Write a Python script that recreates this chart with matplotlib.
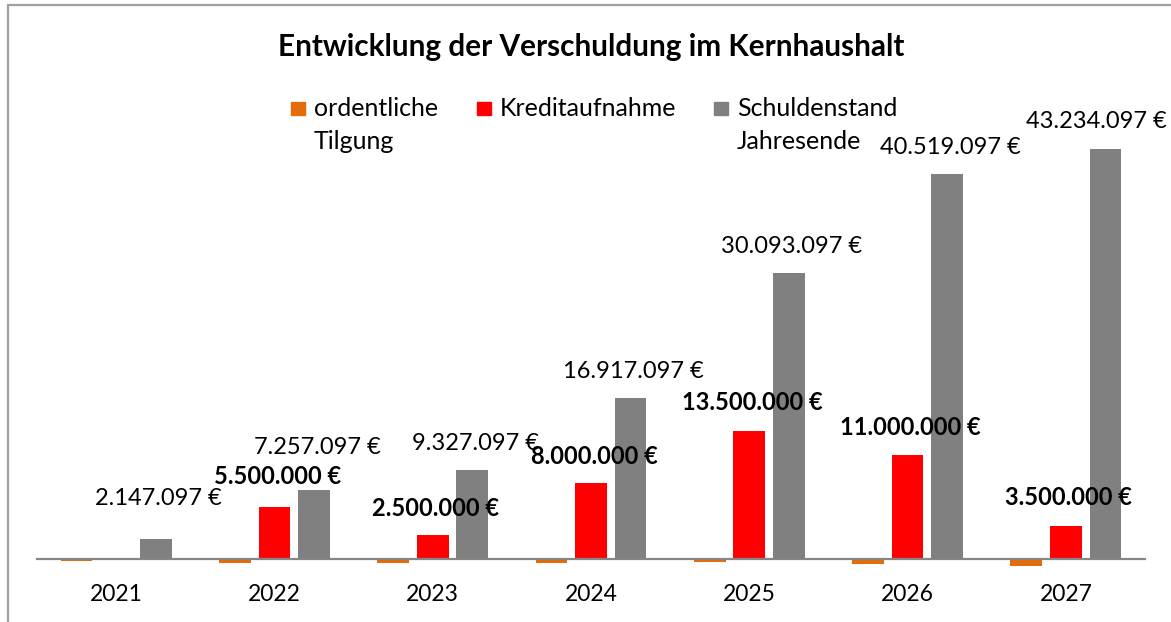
import matplotlib
matplotlib.use("Agg")
import matplotlib.pyplot as plt
from matplotlib.patches import Rectangle
import numpy as np

# chart data
years = ["2021", "2022", "2023", "2024", "2025", "2026", "2027"]
tilgung = [-250000, -390000, -430000, -410000, -324000, -574000, -785000]
kredit = [0, 5500000, 2500000, 8000000, 13500000, 11000000, 3500000]
schulden = [2147097, 7257097, 9327097, 16917097, 30093097, 40519097, 43234097]
series_names = [["ordentliche", "Tilgung"], ["Kreditaufnahme"], ["Schuldenstand", "Jahresende"]]
title = "Entwicklung der Verschuldung im Kernhaushalt"

# label shift from bar top (pixels), some were moved by hand in the original
schulden_lift = [40, 43, 27, 27, 27, 27, 27]
schulden_shift = [3, 3, 3, 3, 3, 3, -9]
kredit_lift = [0, 30, 27, 27, 28, 27, 28]

colors = ["#E46C0A", "#FF0000", "#808080"]
W, H = 1171, 622

plt.rcParams["font.family"] = ["Lato", "DejaVu Sans"]

def fx(px):
    return px / W

def fy(py):
    return 1 - py / H

def euro(v):
    return f"{v:,.0f} €".replace(",", ".")

fig = plt.figure(figsize=(W / 100, H / 100), dpi=100)
fig.patch.set_facecolor("white")

# frame of the excel chart (only top and left edge visible)
fig.patches.append(Rectangle((fx(8), -0.2), 1.2, fy(5) + 0.2, transform=fig.transFigure,
                             fill=False, edgecolor="#A0A0A0", linewidth=1.6))

# axes: x axis line at y=559px, 9.49 px per million
ymin, ymax = -4.0e6, 45.0e6
px_per = 9.49e-6
y_bot = 559 + (-ymin) * px_per
y_top = 559 - ymax * px_per
ax = fig.add_axes([fx(37), fy(y_bot), fx(1145) - fx(37), (y_bot - y_top) / H])
ax.set_xlim(-0.5, len(years) - 0.5)
ax.set_ylim(ymin, ymax)

x = np.arange(len(years))
bw = 0.2
ax.bar(x - 0.25, tilgung, bw, color=colors[0], zorder=2)
ax.bar(x, kredit, bw, color=colors[1], zorder=2)
ax.bar(x + 0.25, schulden, bw, color=colors[2], zorder=2)

for i in range(len(years)):
    ax.annotate(euro(schulden[i]), (x[i] + 0.25, schulden[i]),
                xytext=(schulden_shift[i], schulden_lift[i]),
                textcoords="offset pixels", ha="center", va="center", fontsize=17, zorder=5)
    if kredit[i] > 0:
        ax.annotate(euro(kredit[i]), (x[i], kredit[i]), xytext=(3, kredit_lift[i]),
                    textcoords="offset pixels", ha="center", va="center", fontsize=17,
                    fontweight="bold", zorder=5)

for s in ["top", "left", "right"]:
    ax.spines[s].set_visible(False)
ax.spines["bottom"].set_position(("data", 0))
ax.spines["bottom"].set_color("#868686")
ax.spines["bottom"].set_linewidth(1.6)
ax.spines["bottom"].set_zorder(3)
ax.set_yticks([])
ax.set_xticks(x)
ax.set_xticklabels(years, fontsize=16.5)
ax.tick_params(axis="x", length=0, pad=18)

fig.text(fx(591), fy(47), title, ha="center", va="center", fontsize=21.4, fontweight="bold")

# legend
leg_x = [314, 500, 737]
for lx, names, c in zip(leg_x, series_names, colors):
    fig.patches.append(Rectangle((fx(lx - 23), fy(115)), 14 / W, 13 / H,
                                 transform=fig.transFigure, color=c))
    for k, line in enumerate(names):
        fig.text(fx(lx), fy(108 + 33 * k), line, ha="left", va="center", fontsize=18)

fig.savefig("out.png", dpi=100)
